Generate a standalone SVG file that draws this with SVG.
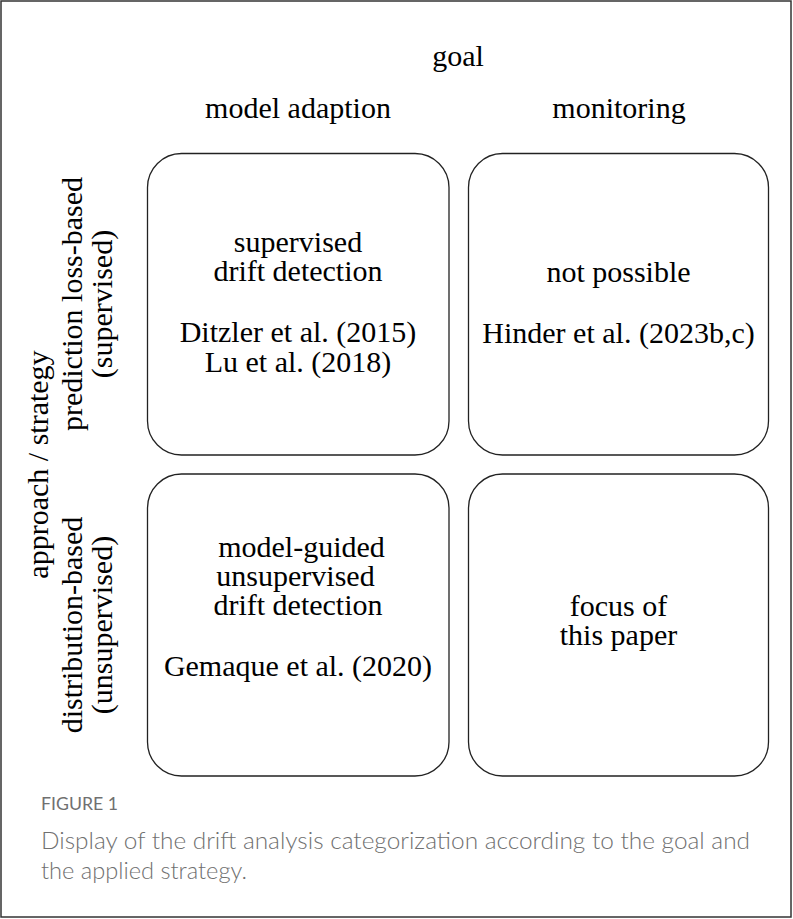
<svg xmlns="http://www.w3.org/2000/svg" width="793" height="919" viewBox="0 0 793 919">
<style>
.frame{fill:#fff;stroke:#333;stroke-width:1.5}
.box{fill:#fff;stroke:#222;stroke-width:1.3}
.t{font-family:"Liberation Serif","Times New Roman",serif;font-size:30px;fill:#000;text-anchor:middle}
.cap{font-family:Lato,"Open Sans",sans-serif;fill:#707070}
</style>
<rect class="frame" x="1" y="1" width="790" height="916"/>
<g id="header">
<text class="t" x="458" y="66">goal</text>
<text class="t" x="298" y="118">model adaption</text>
<text class="t" x="619" y="118">monitoring</text>
</g>
<g id="side-labels">
<text class="t" transform="translate(48,464.5) rotate(-90)">approach / strategy</text>
<text class="t" transform="translate(82,304) rotate(-90)">prediction loss-based</text>
<text class="t" transform="translate(112,304) rotate(-90)">(supervised)</text>
<text class="t" transform="translate(82,625) rotate(-90)">distribution-based</text>
<text class="t" transform="translate(112,625) rotate(-90)">(unsupervised)</text>
</g>
<g id="node-supervised-adaption">
<rect class="box" x="147.5" y="153.5" width="301.5" height="301.5" rx="34" ry="34"/>
<text class="t" x="298" y="252">supervised</text>
<text class="t" x="298" y="281">drift detection</text>
<text class="t" x="298" y="342">Ditzler et al. (2015)</text>
<text class="t" x="298" y="372">Lu et al. (2018)</text>
</g>
<g id="node-supervised-monitoring">
<rect class="box" x="468.5" y="153.5" width="300" height="301.5" rx="34" ry="34"/>
<text class="t" x="618.5" y="282">not possible</text>
<text class="t" x="618.5" y="343">Hinder et al. (2023b,c)</text>
</g>
<g id="node-unsupervised-adaption">
<rect class="box" x="147.5" y="474" width="301.5" height="302" rx="34" ry="34"/>
<text class="t" x="301.5" y="557">model-guided</text>
<text class="t" x="295.5" y="586">unsupervised</text>
<text class="t" x="298" y="615">drift detection</text>
<text class="t" x="298" y="676">Gemaque et al. (2020)</text>
</g>
<g id="node-unsupervised-monitoring">
<rect class="box" x="468.5" y="474" width="300" height="302" rx="34" ry="34"/>
<text class="t" x="618.5" y="616">focus of</text>
<text class="t" x="618.5" y="645">this paper</text>
</g>
<g id="connectors"/>
<g id="caption">
<text class="cap" x="41" y="810" font-size="18" fill="#808080" textLength="77" lengthAdjust="spacingAndGlyphs">FIGURE 1</text>
<text class="cap" x="41" y="849" font-size="24" font-weight="300" textLength="709" lengthAdjust="spacingAndGlyphs">Display of the drift analysis categorization according to the goal and</text>
<text class="cap" x="41" y="879" font-size="24" font-weight="300" textLength="206" lengthAdjust="spacingAndGlyphs">the applied strategy.</text>
</g>
</svg>
